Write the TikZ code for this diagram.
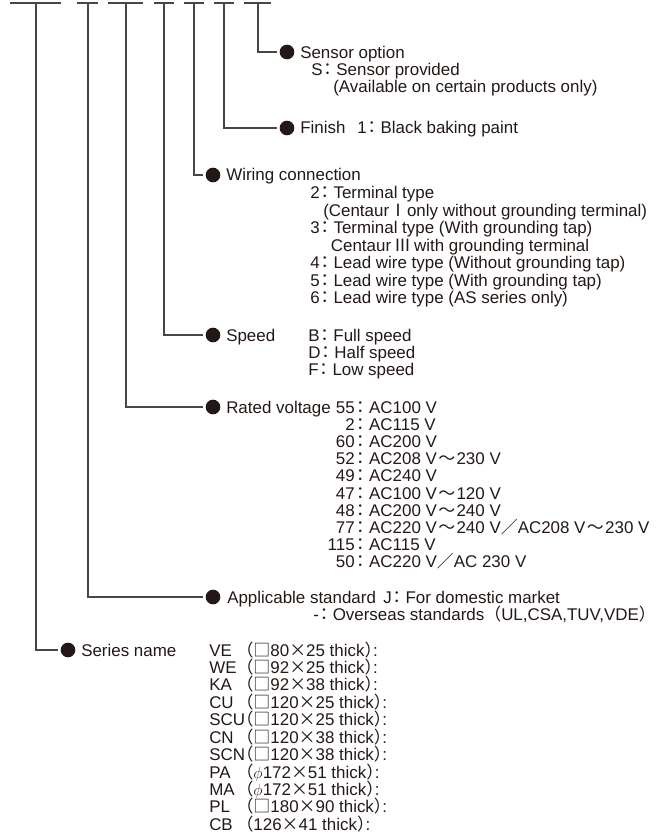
\documentclass[tikz,border=0pt]{standalone}
\usepackage{fontspec}
\setmainfont{Liberation Sans}
\newfontfamily\cjk{Noto Sans CJK JP}
\definecolor{ink}{HTML}{231815}
\definecolor{wirec}{HTML}{4A4545}
\newcommand{\cc}{\smash{\cjk\kern-0.2em：}\kern0.02em}
\newcommand{\lp}{\smash{\cjk\kern-0.5em（}}
\newcommand{\rp}{\smash{\cjk ）}\kern-0.5em:}
\newcommand{\sq}{\smash{\cjk □}}
\newcommand{\xx}{\smash{\cjk ×}}
\newcommand{\til}{\kern0.08em\smash{\cjk ～}\kern0.08em}
\newcommand{\sla}{\smash{\cjk ／}}
\newcommand{\rnI}{\kern-0.25em\smash{\cjk Ⅰ}\kern-0.25em}
\newcommand{\rnIII}{\kern-0.1em\smash{\cjk Ⅲ}\kern-0.1em}
\begin{document}
\begin{tikzpicture}[x=0.75pt,y=-0.75pt,
  font=\fontsize{12.7}{12.9}\selectfont,
  txt/.style={anchor=base west,inner sep=0pt,text=ink},
  num/.style={anchor=base east,inner sep=0pt,text=ink},
  wire/.style={draw=wirec,line width=1pt},
  dot/.style={circle,fill=ink,minimum size=11pt,inner sep=0pt}]
\useasboundingbox (0,0) rectangle (664,837);

% top code segments
\foreach \a/\b in {10/61,77/98,108/143,154/174,184/204,214/234,244/271}
  \draw[wire] (\a,3) -- (\b,3);

\coordinate (t1) at (36,3);
\coordinate (t2) at (88,3);
\coordinate (t3) at (126,3);
\coordinate (t4) at (164,3);
\coordinate (t5) at (194,3);
\coordinate (t6) at (224,3);
\coordinate (t7) at (258,3);

% bullets
\node[dot] (d7) at (287,52) {};
\node[dot] (d6) at (287,128) {};
\node[dot] (d5) at (213,175) {};
\node[dot] (d4) at (213,335) {};
\node[dot] (d3) at (213,407) {};
\node[dot] (d2) at (213,597) {};
\node[dot] (d1) at (68,650) {};

% connectors
\foreach \i in {1,...,7}
  \draw[wire,shorten >=2pt] (t\i) |- (d\i.west);

% Sensor option
\node[txt] (h7) at (300,58.5) {Sensor option};
\node[txt] (s7a) at (311,75.7) {S\cc Sensor provided};
\node[txt] (s7b) at (333,92.9) {(Available on certain products only)};

% Finish
\node[txt] (h6) at (300,134) {Finish};
\node[txt] (s6) at (357,134) {1\cc Black baking paint};

% Wiring connection
\node[txt] (h5) at (226,181) {Wiring connection};
\node[txt] (s5) at (310,199) {\begin{tabular}[t]{@{}l@{}}
2\cc Terminal type\\
\hspace*{9.75pt}(Centaur \rnI\ only without grounding terminal)\\
3\cc Terminal type (With grounding tap)\\
\hspace*{15.5pt}Centaur \rnIII\ with grounding terminal\\
4\cc Lead wire type (Without grounding tap)\\
5\cc Lead wire type (With grounding tap)\\
6\cc Lead wire type (AS series only)
\end{tabular}};

% Speed
\node[txt] (h4) at (226,341) {Speed};
\node[txt] (s4) at (308,341) {\begin{tabular}[t]{@{}l@{}}
B\cc Full speed\\
D\cc Half speed\\
F\cc Low speed
\end{tabular}};

% Rated voltage
\node[txt] (h3) at (226,413) {Rated voltage};
\foreach \n/\t [count=\i from 0] in {55/AC100 V,2/AC115 V,60/AC200 V,52/AC208 V\til 230 V,49/AC240 V,47/AC100 V\til 120 V,48/AC200 V\til 240 V,77/AC220 V\til 240 V\sla AC208 V\til 230 V,115/AC115 V,50/AC220 V\sla AC 230 V}{
  \node[num] (rn\i) at (355,{413+17.2*\i}) {\n};
  \node[txt] (rt\i) at (rn\i.base east) {\cc\t};
}

% Applicable standard
\node[txt] (h2) at (227,603) {Applicable standard};
\node[txt] (s2a) at (383,603) {J\cc For domestic market};
\node[txt] (s2b) at (313,620.2) {-\cc Overseas standards\smash{\cjk （}UL,CSA,TUV,VDE\smash{\cjk ）}};

% Series name
\node[txt] (h1) at (81,656) {Series name};
\node[txt] (s1) at (209,656) {\begin{tabular}[t]{@{}l@{}l@{}}
VE & \lp\sq 80\xx 25 thick\rp\\
WE & \lp\sq 92\xx 25 thick\rp\\
KA & \lp\sq 92\xx 38 thick\rp\\
CU & \lp\sq 120\xx 25 thick\rp\\
SCU & \lp\sq 120\xx 25 thick\rp\\
CN & \lp\sq 120\xx 38 thick\rp\\
SCN & \lp\sq 120\xx 38 thick\rp\\
PA & \lp$\phi$172\xx 51 thick\rp\\
MA & \lp$\phi$172\xx 51 thick\rp\\
PL & \lp\sq 180\xx 90 thick\rp\\
CB & \lp 126\xx 41 thick\rp
\end{tabular}};
\end{tikzpicture}
\end{document}
